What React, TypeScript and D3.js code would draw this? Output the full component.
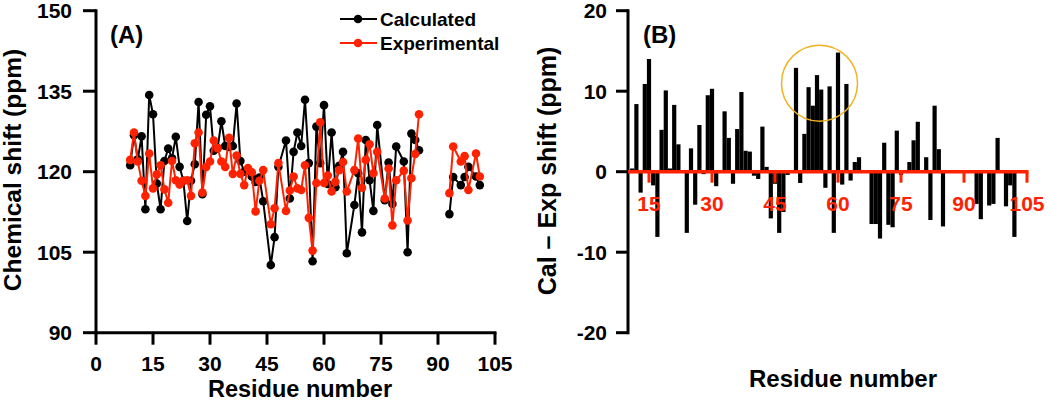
import React from "react";
import * as d3 from "d3";

// ---------- Panel A data ----------
const residuesA = [9,10,11,12,13,14,15,16,17,18,19,20,21,22,23,24,25,26,27,28,29,30,31,32,33,34,35,36,37,38,39,40,41,42,43,44,46,47,48,50,51,52,53,54,55,56,57,58,59,60,61,62,63,64,65,66,68,69,70,71,72,73,74,76,77,78,79,81,82,83,84,85,93,94,96,97,98,100,101];
const calculated = [121.2,126.8,122.3,126.6,113.0,134.3,130.7,117.8,113.0,122.0,124.3,122.5,126.5,120.9,118.3,110.8,118.3,121.4,133.0,115.8,130.6,132.2,123.9,124.4,129.4,124.8,124.6,124.8,132.7,122.0,120.0,120.3,119.1,118.1,118.9,114.5,102.6,107.8,120.9,125.8,115.0,123.7,127.3,124.8,133.4,121.6,103.3,128.4,121.6,132.4,117.7,127.3,117.1,121.1,123.7,104.8,113.8,119.7,108.7,125.9,118.4,112.7,128.7,114.7,121.7,114.0,124.7,121.9,105.0,127.1,125.9,124.0,112.1,119.0,117.5,119.0,120.9,119.1,117.5];
const experimental = [122.2,127.3,121.9,118.3,115.5,123.4,116.9,119.5,121.2,116.7,114.2,122.0,118.4,117.6,118.3,118.4,115.5,125.3,127.3,116.1,120.9,121.9,125.8,124.4,121.9,120.9,126.3,119.6,123.0,119.6,117.5,120.7,119.9,112.6,118.3,120.3,110.2,113.2,121.6,112.7,116.5,119.1,116.9,116.6,121.2,111.4,105.3,117.9,129.2,117.9,119.3,116.3,118.1,120.3,121.8,116.3,120.3,126.2,117.0,122.2,125.1,119.7,123.7,115.0,120.6,110.0,118.4,120.2,110.9,118.8,123.3,130.7,116.0,124.7,121.9,122.9,116.6,123.4,119.1];

const xTicksA = [0, 15, 30, 45, 60, 75, 90, 105];
const yTicksA = [90, 105, 120, 135, 150];

// ---------- Panel B data ----------
const residuesB = [11,12,13,14,15,16,17,18,19,20,21,22,24,25,26,27,28,29,30,31,33,34,35,36,37,38,39,40,41,42,43,44,45,46,47,48,50,51,52,53,54,55,56,57,58,59,60,61,62,63,64,65,68,69,70,71,72,73,74,75,77,78,79,81,82,83,84,85,93,94,96,97,98,100,101,102];
const shiftDiff = [0.4,8.4,-2.6,10.9,14.0,-1.7,-8.1,5.2,10.1,0.4,8.3,3.4,-7.6,2.9,-4.1,5.8,-0.3,9.5,10.3,-1.8,7.5,4.2,-1.5,5.3,9.9,2.6,2.5,-0.5,-0.9,5.6,0.6,-5.8,-1.5,-7.6,-5.0,-0.4,12.9,-1.4,4.7,10.5,8.2,12.0,10.2,-2.0,10.6,-7.6,14.8,-1.6,10.9,-1.1,1.2,1.8,-6.5,-6.5,-8.3,3.6,-6.6,-6.9,5.1,-0.4,1.2,3.9,6.2,1.8,-6.0,8.2,2.8,-6.8,-4.0,-5.9,-4.2,-4.0,4.2,-4.3,-1.7,-8.1];

const xTicksB = [15, 30, 45, 60, 75, 90, 105];
const yTicksB = [-20, -10, 0, 10, 20];

const FONT = "'Liberation Sans', Arial, Helvetica, sans-serif";
const RED = "#ff2200";
const ORANGE = "#f2b01e";

function segments(res: number[], vals: number[]) {
  const segs: [number, number][][] = [];
  let cur: [number, number][] = [];
  res.forEach((r, i) => {
    if (cur.length && r - cur[cur.length - 1][0] > 4) {
      segs.push(cur);
      cur = [];
    }
    cur.push([r, vals[i]]);
  });
  if (cur.length) segs.push(cur);
  return segs;
}

export default function App() {
  // Panel A scales
  const xA = d3.scaleLinear().domain([0, 105]).range([96, 495]);
  const yA = d3.scaleLinear().domain([90, 150]).range([332.7, 10.7]);
  // Panel B scales
  const xB = d3.scaleLinear().domain([10, 105]).range([628, 1027]);
  const yB = d3.scaleLinear().domain([-20, 20]).range([332.7, 10.7]);

  const lineA = d3
    .line<[number, number]>()
    .x((d) => xA(d[0]))
    .y((d) => yA(d[1]));

  const calcSegs = segments(residuesA, calculated);
  const expSegs = segments(residuesA, experimental);

  const bw = xB(1) - xB(0);

  const tickStyle = { fontFamily: FONT, fontWeight: 700 } as const;

  return (
    <svg
      width={1050}
      height={401}
      style={{ position: "absolute", left: 0, top: 0, background: "#fff" }}
    >
      <rect x={0} y={0} width={1050} height={401} fill="#fff" />

      {/* ================= Panel A ================= */}
      <g>
        {calcSegs.map((s, i) => (
          <path key={"cl" + i} d={lineA(s) || ""} fill="none" stroke="#000" strokeWidth={2} />
        ))}
        {residuesA.map((r, i) => (
          <circle key={"cp" + i} cx={xA(r)} cy={yA(calculated[i])} r={4.3} fill="#000" />
        ))}
      </g>
      <g>
        {expSegs.map((s, i) => (
          <path key={"el" + i} d={lineA(s) || ""} fill="none" stroke={RED} strokeWidth={2} />
        ))}
        {residuesA.map((r, i) => (
          <circle key={"ep" + i} cx={xA(r)} cy={yA(experimental[i])} r={4.3} fill={RED} />
        ))}
      </g>

      {/* axes A */}
      <line x1={xA(0)} x2={xA(0)} y1={yA(150) - 1.5} y2={yA(90) + 1.5} stroke="#000" strokeWidth={3} />
      <line x1={xA(0) - 1.5} x2={xA(105) + 1.5} y1={yA(90)} y2={yA(90)} stroke="#000" strokeWidth={3} />
      {yTicksA.map((t) => (
        <g key={"yta" + t}>
          <line x1={xA(0) - 13} x2={xA(0)} y1={yA(t)} y2={yA(t)} stroke="#000" strokeWidth={3} />
          <text x={72} y={yA(t)} dy="0.36em" textAnchor="end" fontSize={21} {...tickStyle}>
            {t}
          </text>
        </g>
      ))}
      {xTicksA.map((t) => (
        <g key={"xta" + t}>
          <line x1={xA(t)} x2={xA(t)} y1={yA(90)} y2={yA(90) + 12} stroke="#000" strokeWidth={3} />
          <text x={xA(t)} y={371} textAnchor="middle" fontSize={21} {...tickStyle}>
            {t}
          </text>
        </g>
      ))}
      <text x={300} y={397} textAnchor="middle" fontSize={23.5} {...tickStyle}>
        Residue number
      </text>
      <text
        transform={`translate(21, 170) rotate(-90)`}
        textAnchor="middle"
        fontSize={24.5}
        {...tickStyle}
      >
        Chemical shift (ppm)
      </text>
      <text x={110} y={43} fontSize={24} {...tickStyle}>
        (A)
      </text>

      {/* legend */}
      <g>
        <line x1={340} x2={377} y1={19} y2={19} stroke="#000" strokeWidth={2} />
        <circle cx={358} cy={19} r={4.3} fill="#000" />
        <text x={380} y={26} fontSize={19} {...tickStyle}>
          Calculated
        </text>
        <line x1={340} x2={377} y1={43} y2={43} stroke={RED} strokeWidth={2} />
        <circle cx={358} cy={43} r={4.3} fill={RED} />
        <text x={380} y={50} fontSize={19} {...tickStyle}>
          Experimental
        </text>
      </g>

      {/* ================= Panel B ================= */}
      <g>
        {residuesB.map((r, i) => {
          const v = shiftDiff[i];
          const y0 = yB(Math.max(0, v));
          const y1 = yB(Math.min(0, v));
          return (
            <rect
              key={"b" + i}
              x={xB(r) - bw / 2}
              y={y0}
              width={bw}
              height={Math.max(0.5, y1 - y0)}
              fill="#000"
            />
          );
        })}
      </g>
      <line x1={xB(10)} x2={xB(10)} y1={yB(20) - 1.5} y2={yB(-20) + 1.5} stroke="#000" strokeWidth={3} />
      {yTicksB.map((t) => (
        <g key={"ytb" + t}>
          <line x1={xB(10) - 12} x2={xB(10)} y1={yB(t)} y2={yB(t)} stroke="#000" strokeWidth={3} />
          <text x={607} y={yB(t)} dy="0.36em" textAnchor="end" fontSize={21} {...tickStyle}>
            {t}
          </text>
        </g>
      ))}
      <line x1={xB(10)} x2={xB(105) + 1.5} y1={yB(0)} y2={yB(0)} stroke={RED} strokeWidth={3.5} />
      {xTicksB.map((t) => (
        <g key={"xtb" + t}>
          <line x1={xB(t)} x2={xB(t)} y1={yB(0)} y2={yB(0) + 11} stroke={RED} strokeWidth={3} />
          <text x={xB(t)} y={211} textAnchor="middle" fontSize={21} fill={RED} {...tickStyle}>
            {t}
          </text>
        </g>
      ))}
      <circle cx={xB(55.6)} cy={yB(11)} r={38} fill="none" stroke={ORANGE} strokeWidth={1.5} />
      <text x={843} y={387} textAnchor="middle" fontSize={24} {...tickStyle}>
        Residue number
      </text>
      <text
        transform={`translate(556, 171) rotate(-90)`}
        textAnchor="middle"
        fontSize={25}
        {...tickStyle}
      >
        Cal – Exp shift (ppm)
      </text>
      <text x={643} y={43} fontSize={24} {...tickStyle}>
        (B)
      </text>
    </svg>
  );
}
